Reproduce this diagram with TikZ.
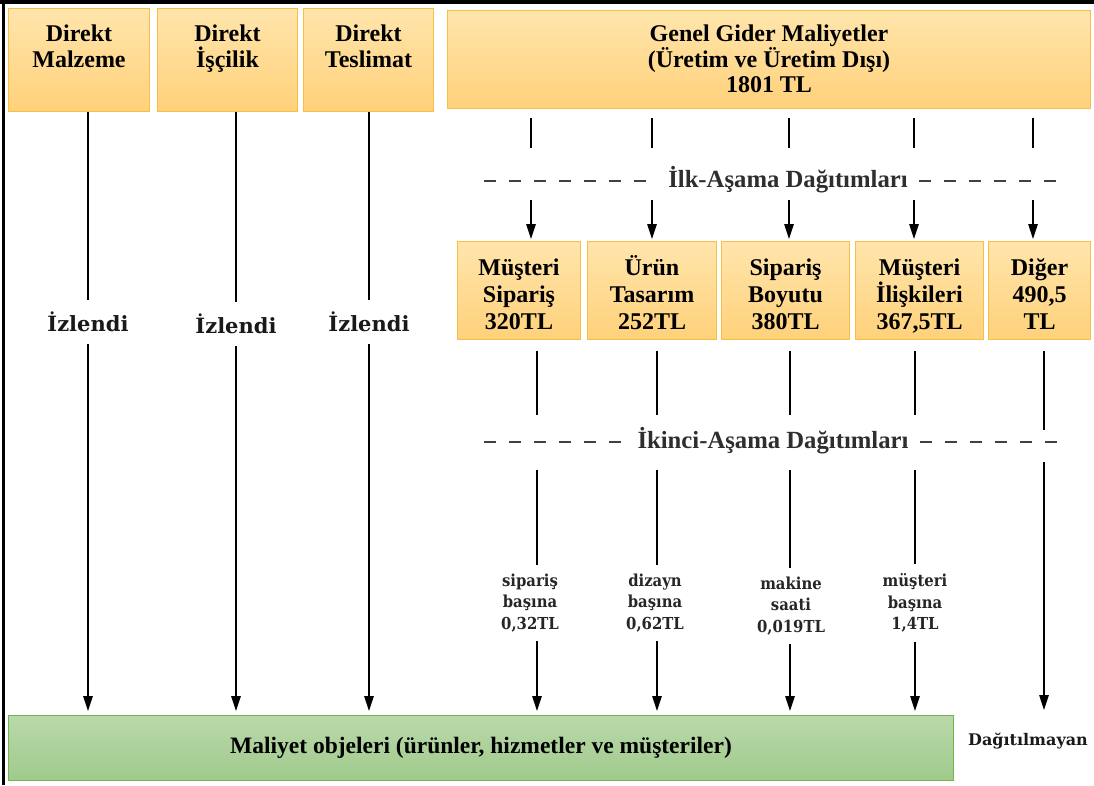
\documentclass[tikz,border=0pt]{standalone}
\usepackage{fontspec}
\setmainfont{Liberation Serif}
\newfontfamily\labelfont{DejaVu Serif}[FakeStretch=0.9]
\newfontfamily\tracefont{DejaVu Serif}
\usetikzlibrary{arrows.meta}

\definecolor{boxtop}{RGB}{255,229,172}
\definecolor{boxbot}{RGB}{255,209,122}
\definecolor{boxline}{RGB}{247,190,72}
\definecolor{greentop}{RGB}{185,217,170}
\definecolor{greenbot}{RGB}{160,202,140}
\definecolor{greenline}{RGB}{118,178,78}

% box text: first baseline #1 below the top edge, the rest follow
\newcommand{\boxtext}[4]{\parbox[c][#2][t]{#3}{\centering\rule{0pt}{#1}#4}}

\begin{document}
\begin{tikzpicture}[x=1pt,y=-1pt,
  every node/.style={inner sep=0pt},
  costbox/.style={draw=boxline, line width=1pt, top color=boxtop, bottom color=boxbot,
    font=\bfseries\fontsize{24}{25.5}\selectfont},
  pool/.style={costbox, font=\bfseries\fontsize{24}{27}\selectfont},
  objbox/.style={draw=greenline, line width=1pt, top color=greentop, bottom color=greenbot,
    font=\bfseries\fontsize{23.5}{25}\selectfont},
  traced/.style={font=\tracefont\bfseries\fontsize{21}{22}\selectfont, text=black!90,
    inner ysep=12pt, inner xsep=4pt},
  stagelabel/.style={font=\bfseries\fontsize{24.7}{26}\selectfont, text=black!82,
    inner xsep=11pt, inner ysep=4pt},
  rate/.style={font=\labelfont\bfseries\fontsize{16.5}{21.5}\selectfont, align=center,
    text=black!85, inner ysep=9pt},
  link/.style={line width=1.2pt},
  arr/.style={link, -{Triangle[length=15pt,width=9.5pt]}},
  stagedash/.style={line width=1.6pt, dash pattern=on 12pt off 13pt, black!75}
]
\useasboundingbox (0,0) rectangle (1094,785);

% frame lines along the top and left edge
\draw[line width=3.5pt] (0,2) -- (1094,2);
\draw[line width=2.5pt] (3.5,0) -- (3.5,785);

% direct cost boxes
\node[costbox, anchor=north west] (dm) at (8,8)
  {\boxtext{33pt}{103pt}{141pt}{Direkt\\Malzeme}};
\node[costbox, anchor=north west] (di) at (157,8)
  {\boxtext{33pt}{103pt}{140pt}{Direkt\\İşçilik}};
\node[costbox, anchor=north west] (dt) at (303,8)
  {\boxtext{33pt}{103pt}{130pt}{Direkt\\Teslimat}};

% overhead cost box
\node[costbox, anchor=north west] (gg) at (447,10)
  {\boxtext{31pt}{98pt}{643pt}{Genel Gider Maliyetler\\(Üretim ve Üretim Dışı)\\1801 TL}};

% traced labels
\node[traced] (iz1) at (88,322) {İzlendi};
\node[traced] (iz2) at (236,324) {İzlendi};
\node[traced] (iz3) at (369,322) {İzlendi};

% cost objects and unallocated
\node[objbox, anchor=north west, minimum width=945pt, minimum height=65pt] (mo) at (8,715)
  {Maliyet objeleri (ürünler, hizmetler ve müşteriler)};
\node[font=\tracefont\bfseries\fontsize{16}{18}\selectfont, text=black!90] (dg) at (1028,741)
  {Dağıtılmayan};

% stage labels
\node[stagelabel] (ilk) at (788,180) {İlk-Aşama Dağıtımları};
\node[stagelabel] (iki) at (773,441) {İkinci-Aşama Dağıtımları};
\coordinate (ilkL) at (484,181);
\coordinate (ilkR) at (1068,181);
\coordinate (ikiL) at (484,442);
\coordinate (ikiR) at (1068,442);
\draw[stagedash] (ilkL) -- (ilk.west |- ilkL);
\draw[stagedash] (ilk.east |- ilkR) -- (ilkR);
\draw[stagedash] (ikiL) -- (iki.west |- ikiL);
\draw[stagedash] (iki.east |- ikiR) -- (ikiR);

% activity cost pools
\node[pool, anchor=north west] (p1) at (457,241) {\boxtext{34pt}{98pt}{123pt}{Müşteri\\Sipariş\\320TL}};
\node[pool, anchor=north west] (p2) at (587,241) {\boxtext{34pt}{98pt}{129pt}{Ürün\\Tasarım\\252TL}};
\node[pool, anchor=north west] (p3) at (721,241) {\boxtext{34pt}{98pt}{128pt}{Sipariş\\Boyutu\\380TL}};
\node[pool, anchor=north west] (p4) at (855,241) {\boxtext{34pt}{98pt}{128pt}{Müşteri\\İlişkileri\\367,5TL}};
\node[pool, anchor=north west] (p5) at (988,241) {\boxtext{34pt}{98pt}{102pt}{Diğer\\490,5\\TL}};

% activity rates
\node[rate] (r1) at (530,603) {sipariş\\başına\\0,32TL};
\node[rate] (r2) at (655,603) {dizayn\\başına\\0,62TL};
\node[rate] (r3) at (791,606) {makine\\saati\\0,019TL};
\node[rate] (r4) at (915,603) {müşteri\\başına\\1,4TL};

% direct costs are traced straight to the cost objects
\foreach \b/\l in {dm/iz1, di/iz2, dt/iz3}{
  \draw[link] (\b.south -| \l) -- (\l.north);
  \draw[arr, shorten >=4pt] (\l.south) -- (mo.north -| \l);
}

% first-stage allocation
\foreach \x/\p [count=\i] in {531/p1, 652/p2, 789/p3, 914/p4, 1033/p5}{
  \coordinate (ga\i) at (\x,148);
  \coordinate (gb\i) at (\x,200);
  \draw[link, shorten <=9pt] (gg.south -| ga\i) -- (ga\i);
  \draw[arr, shorten >=2pt] (gb\i) -- (\p.north -| gb\i);
}

% second-stage allocation
\foreach \x/\p/\r [count=\i] in {537/p1/r1, 657/p2/r2, 790/p3/r3, 915/p4/r4}{
  \coordinate (ca\i) at (\x,415);
  \coordinate (cb\i) at (\x,470);
  \draw[link, shorten <=11pt] (\p.south -| ca\i) -- (ca\i);
  \draw[link] (cb\i) -- (\r.north -| cb\i);
  \draw[arr, shorten >=4pt] (\r.south -| cb\i) -- (mo.north -| cb\i);
}

% the remaining pool is left unallocated
\coordinate (ca5) at (1044,430);
\coordinate (cb5) at (1044,462);
\coordinate (ce5) at (1044,710);
\draw[link, shorten <=11pt] (p5.south -| ca5) -- (ca5);
\draw[arr] (cb5) -- (ce5);
\end{tikzpicture}
\end{document}
